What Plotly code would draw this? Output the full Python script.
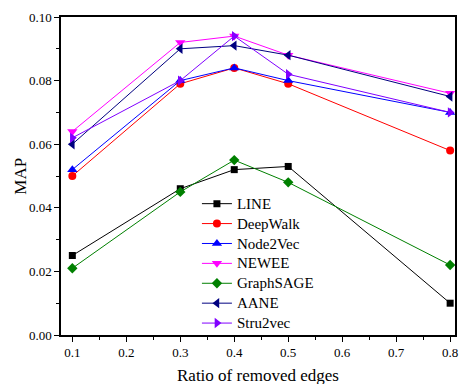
import plotly.graph_objects as go

ratios = [0.1, 0.3, 0.4, 0.5, 0.8]
names = ["LINE", "DeepWalk", "Node2Vec", "NEWEE", "GraphSAGE", "AANE", "Stru2vec"]
line_vals = [0.025, 0.046, 0.052, 0.053, 0.010]
deepwalk_vals = [0.050, 0.079, 0.084, 0.079, 0.058]
node2vec_vals = [0.052, 0.080, 0.084, 0.080, 0.070]
newee_vals = [0.064, 0.092, 0.094, 0.088, 0.076]
graphsage_vals = [0.021, 0.045, 0.055, 0.048, 0.022]
aane_vals = [0.060, 0.090, 0.091, 0.088, 0.075]
stru2vec_vals = [0.062, 0.080, 0.094, 0.082, 0.070]
x_title = "Ratio of removed edges"
y_title = "MAP"

series = [line_vals, deepwalk_vals, node2vec_vals, newee_vals, graphsage_vals, aane_vals, stru2vec_vals]
colors = ["#000000", "#FF0000", "#0000FF", "#FF00FF", "#008000", "#000080", "#8000FF"]
symbols = ["square", "circle", "triangle-up", "triangle-down", "diamond", "triangle-left", "triangle-right"]
sizes = [7, 8, 9, 9, 8, 9, 9]

fig = go.Figure()
for name, vals, c, s, sz in zip(names, series, colors, symbols, sizes):
    fig.add_trace(go.Scatter(
        x=ratios, y=vals, name="<span style='font-size:15px'>%s</span>" % name,
        mode="lines+markers",
        line=dict(color=c, width=1),
        marker=dict(symbol=s, size=sz, color=c, line=dict(width=0)),
        cliponaxis=False,
    ))

font = "Liberation Serif"
fig.update_layout(
    width=459, height=384,
    margin=dict(l=61, r=1, t=17, b=49),
    paper_bgcolor="white", plot_bgcolor="white",
    font=dict(family=font, color="black", size=13),
    showlegend=True,
    legend=dict(x=0.345, y=0.46, xanchor="left", yanchor="top",
                bgcolor="rgba(0,0,0,0)", font=dict(size=13, family=font),
                tracegroupgap=0, itemwidth=30),
    annotations=[
        dict(text=x_title, xref="paper", yref="paper", x=0.5, y=-0.128,
             xanchor="center", yanchor="middle", showarrow=False,
             font=dict(size=17, family=font)),
        dict(text=y_title, xref="paper", yref="paper", x=-0.105, y=0.5, textangle=-90,
             xanchor="center", yanchor="middle", showarrow=False,
             font=dict(size=17, family=font)),
    ],
)
fig.update_xaxes(
    range=[0.079, 0.809], tickmode="linear", tick0=0.1, dtick=0.1, tickformat=".1f",
    ticklabeloverflow="allow",
    showgrid=False, zeroline=False, showline=True, linecolor="black", linewidth=1.5, mirror=True,
    ticks="outside", ticklen=5, tickwidth=1, tickcolor="black",
    minor=dict(ticks="outside", ticklen=3, dtick=0.05, tick0=0.1, tickcolor="black", showgrid=False),
    tickfont=dict(size=13, family=font),
)
fig.update_yaxes(
    range=[0, 0.1], tickmode="linear", tick0=0, dtick=0.02, tickformat=".2f",
    showgrid=False, zeroline=False, showline=True, linecolor="black", linewidth=1.5, mirror=True,
    ticks="outside", ticklen=5, tickwidth=1, tickcolor="black",
    minor=dict(ticks="outside", ticklen=3, dtick=0.01, tickcolor="black", showgrid=False),
    tickfont=dict(size=13, family=font),
)
fig.write_html("out.html")
